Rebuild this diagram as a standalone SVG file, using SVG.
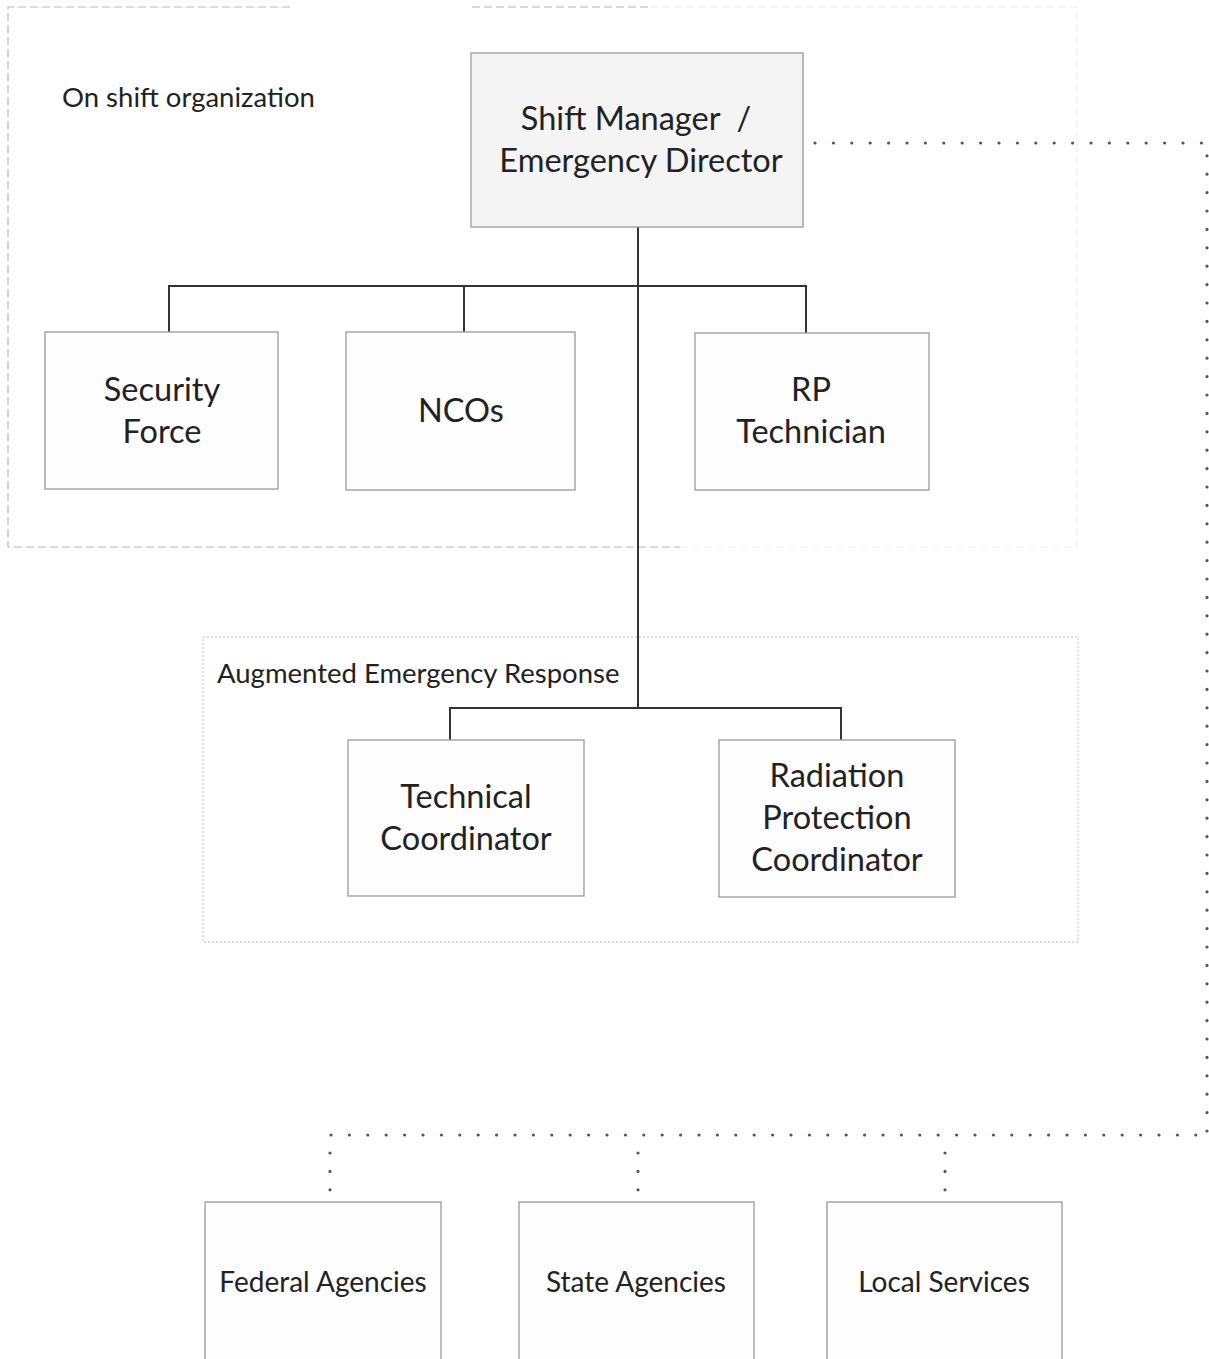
<svg xmlns="http://www.w3.org/2000/svg" width="1209" height="1359" viewBox="0 0 1209 1359">
<style>
text{font-family:Lato,"Open Sans","Liberation Sans",sans-serif;fill:#222;text-anchor:middle}
.box{fill:#fdfdfd;stroke:#9a9a9a;stroke-width:1.3}
.hd{fill:#f4f4f4}
.t{font-size:32.5px}
.s{font-size:28px}
.lbl{font-size:27.5px;text-anchor:start}
.solid{fill:none;stroke:#333;stroke-width:2}
.dot{fill:none;stroke:#555;stroke-width:3.2;stroke-linecap:round;stroke-dasharray:0 18.4}
.grp{fill:none;stroke:#b8b8b8;stroke-width:1.2;stroke-dasharray:8 4}
.grpf{fill:none;stroke:#eeeeee;stroke-width:1.2;stroke-dasharray:8 4}
.aug{fill:none;stroke:#d2d2d2;stroke-width:1.3;stroke-dasharray:2 2}
</style>
<rect width="1209" height="1359" fill="#ffffff"/>
<g id="group-onshift">
<path class="grpf" d="M650 7H1077V547H680"/>
<path class="grp" d="M290 7H8V547H680"/>
<path class="grp" d="M472 7H650"/>
<text class="lbl" x="62" y="107">On shift organization</text>
</g>
<g id="group-augmented">
<rect class="aug" x="203" y="637" width="875" height="305"/>
<text class="lbl" x="217" y="683">Augmented Emergency Response</text>
</g>
<g id="connectors">
<path class="solid" d="M638 227V708M169 286H806M169 285V332M464 285V332M806 285V333M450 708H841M450 707V740M841 707V740"/>
<path class="dot" d="M815 143H1207V1135"/>
<path class="dot" d="M331 1135H1200"/>
<path class="dot" d="M330 1153V1202"/>
<path class="dot" d="M638 1153V1202"/>
<path class="dot" d="M945 1153V1202"/>
</g>
<g id="node-shift-manager">
<rect class="box hd" x="471" y="53" width="332" height="174"/>
<text class="t" x="636" y="130">Shift Manager&#160; /</text>
<text class="t" x="641" y="172">Emergency Director</text>
</g>
<g id="node-security">
<rect class="box" x="45" y="332" width="233" height="157"/>
<text class="t" x="162" y="401">Security</text>
<text class="t" x="162" y="443">Force</text>
</g>
<g id="node-ncos">
<rect class="box" x="346" y="332" width="229" height="158"/>
<text class="t" x="461" y="422">NCOs</text>
</g>
<g id="node-rp-tech">
<rect class="box" x="695" y="333" width="234" height="157"/>
<text class="t" x="811" y="401">RP</text>
<text class="t" x="811" y="443">Technician</text>
</g>
<g id="node-tech-coord">
<rect class="box" x="348" y="740" width="236" height="156"/>
<text class="t" x="466" y="808">Technical</text>
<text class="t" x="466" y="850">Coordinator</text>
</g>
<g id="node-rp-coord">
<rect class="box" x="719" y="740" width="236" height="157"/>
<text class="t" x="837" y="787">Radiation</text>
<text class="t" x="837" y="829">Protection</text>
<text class="t" x="837" y="871">Coordinator</text>
</g>
<g id="node-federal">
<rect class="box" x="205" y="1202" width="236" height="170"/>
<text class="s" x="323" y="1292">Federal Agencies</text>
</g>
<g id="node-state">
<rect class="box" x="519" y="1202" width="235" height="170"/>
<text class="s" x="636" y="1292">State Agencies</text>
</g>
<g id="node-local">
<rect class="box" x="827" y="1202" width="235" height="170"/>
<text class="s" x="944" y="1292">Local Services</text>
</g>
</svg>
